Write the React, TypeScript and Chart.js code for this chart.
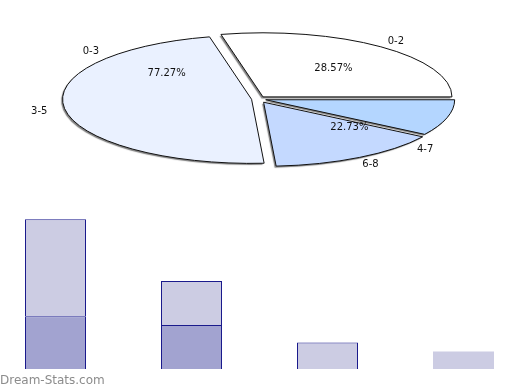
import React, { useEffect, useRef } from "react";
import { Chart, registerables } from "chart.js";

Chart.register(...registerables);

// ---- Pie data (visible pie) ----
const pieLabelsA = ["0-2", "", "6-8", "3-5"];
const pieValuesA = [28.57, 9.08, 14.86, 47.49];
const piePctShownA = [true, false, false, false];
// ---- Pie data (second, label-only pie) ----
const pieLabelsB = ["4-7", "0-3"];
const pieValuesB = [22.73, 77.27];
const piePctShownB = [true, true];

// ---- Bar data ----
const barCategories = ["1", "2", "3", "4"];
const barLowerValues = [6, 5, null, null];
const barUpperValues = [11, 5, 3, 2];

const watermarkText = "Dream-Stats.com";

const RATIO = 0.339;
const FONT = '"DejaVu Sans", "Noto Sans", sans-serif';
// explode distance of each visible slice (style)
const EXPLODE = [8, 8, 11, 6.5];

const ellipsePlugin = {
  id: "ellipsePie",
  afterUpdate(chart: any) {
    const meta = chart.getDatasetMeta(0);
    const a0 = meta.data[0];
    chart.$pieCenter = { x: a0.x, y: a0.y, r: a0.outerRadius };
    meta.data.forEach((el: any, i: number) => {
      const mid = (el.startAngle + el.endAngle) / 2;
      const d = EXPLODE[i] || 0;
      el.x = el.x + Math.cos(mid) * d;
      el.y = el.y + Math.sin(mid) * d;
    });
  },
  beforeDatasetsDraw(chart: any) {
    const { x: cx, y: cy } = chart.$pieCenter;
    const ctx = chart.ctx;
    const dpr = chart.currentDevicePixelRatio || 1;
    ctx.save();
    ctx.translate(cx, cy);
    ctx.scale(1, RATIO);
    ctx.translate(-cx, -cy);
    ctx.shadowColor = "rgba(0,0,0,0.5)";
    ctx.shadowOffsetX = -1.5;
    ctx.shadowOffsetY = 1.5;
    ctx.shadowBlur = 1;
    const orig = CanvasRenderingContext2D.prototype.stroke;
    ctx.stroke = function (...args: any[]) {
      this.save();
      this.setTransform(dpr, 0, 0, dpr, 0, 0);
      this.shadowColor = "rgba(0,0,0,0)";
      orig.apply(this, args as any);
      this.restore();
    };
  },
  afterDatasetsDraw(chart: any) {
    const ctx = chart.ctx;
    delete ctx.stroke;
    ctx.restore();
    const { x: cx, y: cy, r: R } = chart.$pieCenter;
    ctx.save();
    ctx.font = "10px " + FONT;
    ctx.fillStyle = "#111";
    ctx.textAlign = "center";
    ctx.textBaseline = "middle";
    const put = (ang: number, rf: number, text: string) =>
      ctx.fillText(text, cx + Math.cos(ang) * R * rf, cy + 1.2 + Math.sin(ang) * R * rf * RATIO);
    const sets = [
      { labels: pieLabelsA, values: pieValuesA, pct: piePctShownA },
      { labels: pieLabelsB, values: pieValuesB, pct: piePctShownB },
    ];
    sets.forEach((set, di) => {
      const meta = chart.getDatasetMeta(di);
      const total = set.values.reduce((s, v) => s + v, 0);
      meta.data.forEach((el: any, i: number) => {
        const mid = (el.startAngle + el.endAngle) / 2;
        if (set.labels[i]) put(mid, 1.17, set.labels[i]);
        if (set.pct[i]) put(mid, 0.64, ((set.values[i] / total) * 100).toFixed(2) + "%");
      });
    });
    ctx.restore();
  },
};

const watermarkPlugin = {
  id: "watermark",
  afterDraw(chart: any) {
    const ctx = chart.ctx;
    ctx.save();
    ctx.font = "12px " + FONT;
    ctx.fillStyle = "#8c8c8c";
    ctx.textAlign = "left";
    ctx.textBaseline = "alphabetic";
    ctx.fillText(watermarkText, 0, chart.height - 6.5);
    ctx.restore();
  },
};

export default function App() {
  const pieRef = useRef<HTMLCanvasElement>(null);
  const barRef = useRef<HTMLCanvasElement>(null);

  useEffect(() => {
    Chart.defaults.font.family = FONT;
    const pie = new Chart(pieRef.current!, {
      type: "pie",
      data: {
        labels: pieLabelsA,
        datasets: [
          {
            data: pieValuesA,
            backgroundColor: ["#FFFFFF", "#B4D6FF", "#C4D9FF", "#EAF1FF"],
            borderColor: "#111111",
            borderWidth: 1,
            borderJoinStyle: "miter",
            offset: 0,
            rotation: -12.85,
            radius: 189,
            weight: 1,
            clip: false,
          } as any,
          {
            data: pieValuesB,
            backgroundColor: "rgba(0,0,0,0)",
            borderWidth: 0,
            rotation: 90,
            radius: 189,
            weight: 0,
            clip: false,
          } as any,
        ],
      },
      options: {
        responsive: false,
        animation: false,
        devicePixelRatio: 1,
        layout: { padding: { top: 8, right: 4, left: 0, bottom: 0 } },
        plugins: { legend: { display: false }, tooltip: { enabled: false } },
        events: [],
      } as any,
      plugins: [ellipsePlugin],
    });

    const bar = new Chart(barRef.current!, {
      type: "bar",
      data: {
        labels: barCategories,
        datasets: [
          {
            data: barLowerValues,
            backgroundColor: "#A2A3D0",
            borderColor: "#1a1a8c",
            borderWidth: 1,
            clip: false,
          } as any,
          {
            data: barUpperValues,
            backgroundColor: "#CCCCE3",
            borderColor: "#1a1a8c",
            borderWidth: [1, 1, 1, 0],
            clip: false,
          } as any,
        ],
      },
      options: {
        responsive: false,
        animation: false,
        devicePixelRatio: 1,
        categoryPercentage: 1,
        barPercentage: 61 / 136,
        layout: { padding: { top: 0, right: 56.5, left: 55.5, bottom: 21 } },
        scales: {
          x: { display: false, stacked: true, offset: false, grid: { display: false } },
          y: { display: false, stacked: true, min: 0, max: 19.2, grid: { display: false } },
        },
        plugins: { legend: { display: false }, tooltip: { enabled: false } },
        events: [],
      } as any,
      plugins: [watermarkPlugin],
    });

    return () => {
      pie.destroy();
      bar.destroy();
    };
  }, []);

  return (
    <div style={{ position: "fixed", left: 0, top: 0, width: 520, height: 390, background: "#fff" }}>
      <canvas ref={pieRef} width={520} height={190} style={{ position: "absolute", left: 0, top: 0 }} />
      <canvas ref={barRef} width={520} height={190} style={{ position: "absolute", left: 0, top: 200 }} />
    </div>
  );
}
